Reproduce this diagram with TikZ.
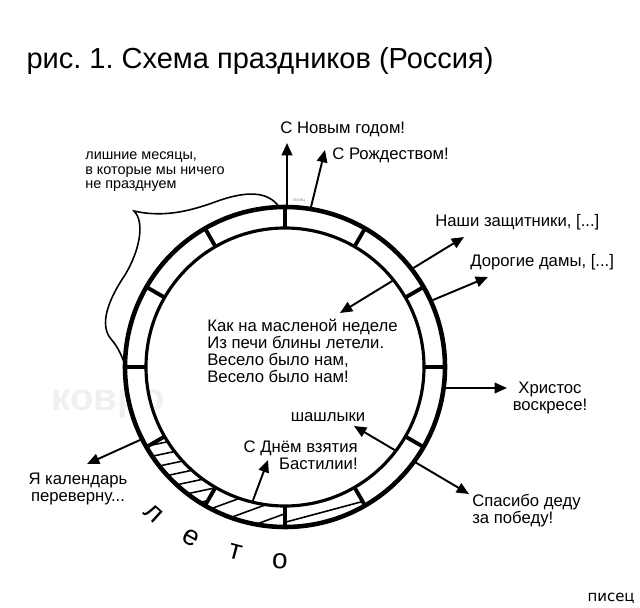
\documentclass[tikz,border=0pt]{standalone}
\usepackage{fontspec}
\setmainfont{Liberation Sans}
\newfontfamily\signfont{DejaVu Sans}
\usetikzlibrary{arrows.meta}
\frenchspacing
\tikzset{
  lbl/.style={font=\fontsize{9.5}{9.8}\selectfont, inner sep=0pt},
  note/.style={font=\fontsize{8.2}{8.3}\selectfont, inner sep=0pt, align=left},
  tip/.style={-{Triangle[length=7pt,width=6pt]}, line width=1.1pt},
  tips/.style={{Triangle[length=7pt,width=6pt]}-{Triangle[length=7pt,width=6pt]}, line width=1.1pt},
  hatch/.style={line width=0.9pt}
}

\begin{document}
\begin{tikzpicture}[x=0.02cm,y=-0.02cm]
\useasboundingbox (0,0) rectangle (640,608);

% watermark
\node[font=\fontsize{22}{22}\selectfont\bfseries, text=black!6] (wm) at (108,404) {ковро};

\node[font=\fontsize{16.5}{19}\selectfont, inner sep=0pt] (title) at (260,61) {рис. 1. Схема праздников (Россия)};

% labels
\node[lbl, anchor=west] (ny) at (280,129) {С Новым годом!};
\node[lbl, anchor=west] (xmas) at (332,155) {С Рождеством!};
\node[note, anchor=west] (extra) at (85,172) {лишние месяцы,\\в которые мы ничего\\не празднуем};
\node[lbl, anchor=west] (defend) at (435,222) {Наши защитники, [...]};
\node[lbl, anchor=west] (ladies) at (470,262) {Дорогие дамы, [...]};
\node[lbl, align=center] (easter) at (550,398) {Христос\\воскресе!};
\node[lbl, anchor=west, align=left] (poem) at (207,351) {Как на масленой неделе\\Из печи блины летели.\\Весело было нам,\\Весело было нам!};
\node[lbl] (bbq) at (328,417) {шашлыки};
\node[lbl, anchor=east, align=right] (bastille) at (358,455) {С Днём взятия\\Бастилии!};
\node[lbl, anchor=west, align=left] (victory) at (472,511) {Спасибо деду\\за победу!};
\node[lbl, align=center] (calendar) at (78,489) {Я календарь\\переверну...};
\node[font=\signfont\fontsize{8.5}{9}\selectfont, anchor=east, inner sep=0pt] (sign) at (635,598) {писец};
\node[font=\fontsize{2.5}{3}\selectfont, text=black!45, inner sep=0.5pt] (tiny) at (299,201) {писец};

% arrow ends
\coordinate (ny-s) at (287,208);   \coordinate (ny-t) at (287,143);
\coordinate (xmas-s) at (311,207); \coordinate (xmas-t) at (325,150);
\coordinate (poem-t) at (340,313); \coordinate (defend-t) at (464,237);
\coordinate (ladies-s) at (433,300); \coordinate (ladies-t) at (488,277);
\coordinate (easter-s) at (445,388); \coordinate (easter-t) at (507,388);
\coordinate (bbq-t) at (354,426); \coordinate (victory-t) at (469,494);
\coordinate (bast-s) at (252,503); \coordinate (bast-t) at (268,460);
\coordinate (cal-s) at (140,440); \coordinate (cal-t) at (87,464);

\draw[tip] (ny-s) -- (ny-t);
\draw[tip] (xmas-s) -- (xmas-t);
\draw[tips] (poem-t) -- (defend-t);
\draw[tip] (ladies-s) -- (ladies-t);
\draw[tip] (easter-s) -- (easter-t);
\draw[tips] (bbq-t) -- (victory-t);
\draw[tip] (bast-s) -- (bast-t);
\draw[tip] (cal-s) -- (cal-t);

% the extra months
\draw[line width=0.9pt] (280,208) .. controls (268,190) and (245,191) .. (215,202)
  .. controls (185,213) and (160,217) .. (134,211)
  .. controls (145,222) and (140,250) .. (125,275)
  .. controls (108,300) and (99,325) .. (111,339)
  .. controls (117,346) and (120,352) .. (124,362);

\begin{scope}[shift={(285,367)}, y=0.02cm]
\fill[white, even odd rule] (0,0) circle (160) (0,0) circle (139);

% summer goes fast
\begin{scope}
\clip (210:139) arc[start angle=210, end angle=240, radius=139] -- (240:160) arc[start angle=240, end angle=210, radius=160] -- cycle;
\begin{scope}[shift={(225:150)}, rotate=12]
\foreach \k in {-55,-44,...,55}
  \draw[hatch] (-90,\k) -- (90,\k);
\end{scope}
\end{scope}
\begin{scope}
\clip (240:139) arc[start angle=240, end angle=270, radius=139] -- (270:160) arc[start angle=270, end angle=240, radius=160] -- cycle;
\begin{scope}[shift={(255:150)}, rotate=20]
\foreach \k in {-15,0,15}
  \draw[hatch] (-90,\k) -- (90,\k);
\end{scope}
\end{scope}
\begin{scope}
\clip (270:139) arc[start angle=270, end angle=300, radius=139] -- (300:160) arc[start angle=300, end angle=270, radius=160] -- cycle;
\begin{scope}[shift={(285:150)}, rotate=15]
\draw[hatch] (-90,0) -- (90,0);
\end{scope}
\end{scope}

\draw[line width=2.6pt] (0,0) circle (160);
\draw[line width=1.8pt] (0,0) circle (139);
\foreach \a in {0,30,...,330}
  \draw[line width=2.2pt] (\a:139) -- (\a:160);

\foreach \ch/\a/\r in {л/228/197, е/241/195, т/255/192, о/268.5/194}
  \node[font=\fontsize{16}{16}\selectfont, rotate=\a+90] at (\a:\r) {\ch};
\end{scope}

\end{tikzpicture}
\end{document}
